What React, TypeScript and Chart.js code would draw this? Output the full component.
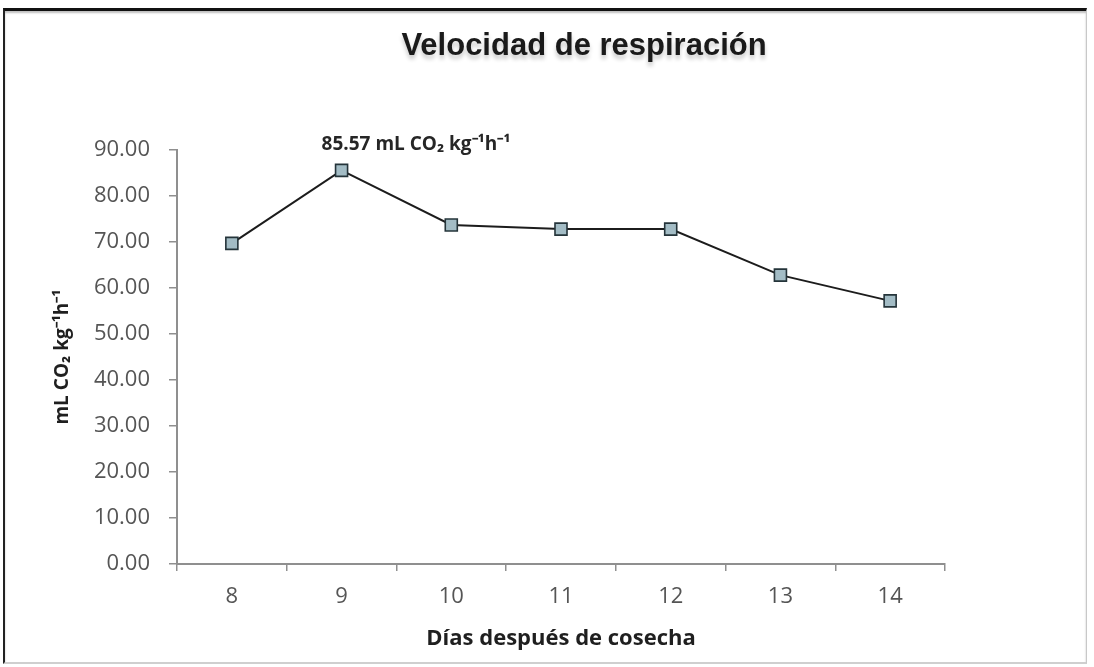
import React, { useEffect, useRef } from 'react';
import { Chart, registerables } from 'chart.js';

Chart.register(...registerables);

const days: string[] = ['8', '9', '10', '11', '12', '13', '14'];
const respiration: number[] = [69.7, 85.57, 73.7, 72.8, 72.8, 62.8, 57.2];
const yMin = 0;
const yMax = 90;
const yStep = 10;
const chartTitle = 'Velocidad de respiración';
const yTitle = 'mL CO₂ kg⁻¹h⁻¹';
const xTitle = 'Días después de cosecha';
const peakLabel = '85.57 mL CO₂ kg⁻¹h⁻¹';
const peakIndex = 1;

const W = 1094;
const H = 667;

const titlePlugin = {
  id: 'customTitle',
  afterDraw(chart: any) {
    const ctx = chart.ctx;
    ctx.save();
    ctx.font = 'bold 31px "Liberation Sans", Arial, sans-serif';
    ctx.textAlign = 'center';
    ctx.textBaseline = 'alphabetic';
    ctx.shadowColor = 'rgba(0,0,0,0.22)';
    ctx.shadowOffsetY = 4;
    ctx.shadowBlur = 4;
    ctx.fillStyle = '#1a1a1a';
    ctx.fillText(chartTitle, 584, 55);
    ctx.restore();
  },
};

const peakLabelPlugin = {
  id: 'peakLabel',
  afterDatasetsDraw(chart: any) {
    const meta = chart.getDatasetMeta(0);
    const pt = meta.data[peakIndex];
    if (!pt) return;
    const ctx = chart.ctx;
    ctx.save();
    ctx.font = 'bold 19px "Open Sans", sans-serif';
    ctx.textAlign = 'left';
    ctx.textBaseline = 'alphabetic';
    ctx.fillStyle = '#262626';
    ctx.fillText(peakLabel, pt.x - 20, pt.y - 20);
    ctx.restore();
  },
};

export default function App() {
  const canvasRef = useRef<HTMLCanvasElement | null>(null);

  useEffect(() => {
    const canvas = canvasRef.current;
    if (!canvas) return;
    const axisColor = '#8f8f8f';
    const chart = new Chart(canvas, {
      type: 'line',
      data: {
        labels: days,
        datasets: [
          {
            data: respiration,
            borderColor: '#1c1c1c',
            borderWidth: 2,
            pointStyle: 'rect',
            pointRadius: 8.5,
            pointBackgroundColor: '#a3bcc5',
            pointBorderColor: '#25343a',
            pointBorderWidth: 1.6,
            tension: 0,
            fill: false,
          },
        ],
      },
      options: {
        responsive: false,
        devicePixelRatio: 1,
        animation: false,
        layout: { padding: { top: 150, right: 149, bottom: 9, left: 0 } },
        plugins: {
          legend: { display: false },
          tooltip: { enabled: false },
          title: { display: false },
        },
        scales: {
          x: {
            type: 'category',
            offset: true,
            afterFit: (scale: any) => {
              scale.height = 94;
            },
            grid: {
              display: true,
              drawOnChartArea: false,
              drawTicks: true,
              tickLength: 7,
              offset: true,
              color: axisColor,
              lineWidth: 1.5,
            },
            border: { display: true, color: axisColor, width: 2 },
            ticks: {
              color: '#555555',
              padding: 13,
              font: { family: '"Open Sans", sans-serif', size: 22 },
            },
            title: {
              display: true,
              text: xTitle,
              color: '#1f1f1f',
              font: { family: '"Open Sans", sans-serif', size: 22, weight: 'bold' },
              padding: { top: 0, bottom: 6 },
            },
          },
          y: {
            min: yMin,
            max: yMax,
            afterFit: (scale: any) => {
              scale.width = 177;
            },
            grid: {
              display: true,
              drawOnChartArea: false,
              drawTicks: true,
              tickLength: 8,
              color: axisColor,
              lineWidth: 1.5,
            },
            border: { display: true, color: axisColor, width: 2 },
            ticks: {
              stepSize: yStep,
              color: '#555555',
              padding: 19,
              font: { family: '"Open Sans", sans-serif', size: 22 },
              callback: (v: any) => Number(v).toFixed(2),
            },
            title: {
              display: true,
              text: yTitle,
              color: '#1f1f1f',
              font: { family: '"Open Sans", sans-serif', size: 19, weight: 'bold' },
              padding: { top: 51, bottom: 0 },
            },
          },
        },
      },
      plugins: [titlePlugin, peakLabelPlugin],
    } as any);
    return () => chart.destroy();
  }, []);

  return (
    <div
      style={{
        position: 'fixed',
        left: 0,
        top: 0,
        width: W,
        height: H,
        background: '#ffffff',
        overflow: 'hidden',
      }}
    >
      <canvas
        ref={canvasRef}
        width={W}
        height={H}
        style={{ display: 'block', width: W, height: H }}
      />
      <div
        style={{
          position: 'absolute',
          left: 3,
          top: 8,
          width: 1084,
          height: 656,
          boxSizing: 'border-box',
          borderTop: '3px solid #111111',
          borderLeft: '2px solid #222222',
          borderRight: '1px solid #c8c8c8',
          borderBottom: '2px solid #cfcfcf',
          boxShadow: 'inset 0 2px 2px rgba(0,0,0,0.25)',
          pointerEvents: 'none',
        }}
      />
    </div>
  );
}
